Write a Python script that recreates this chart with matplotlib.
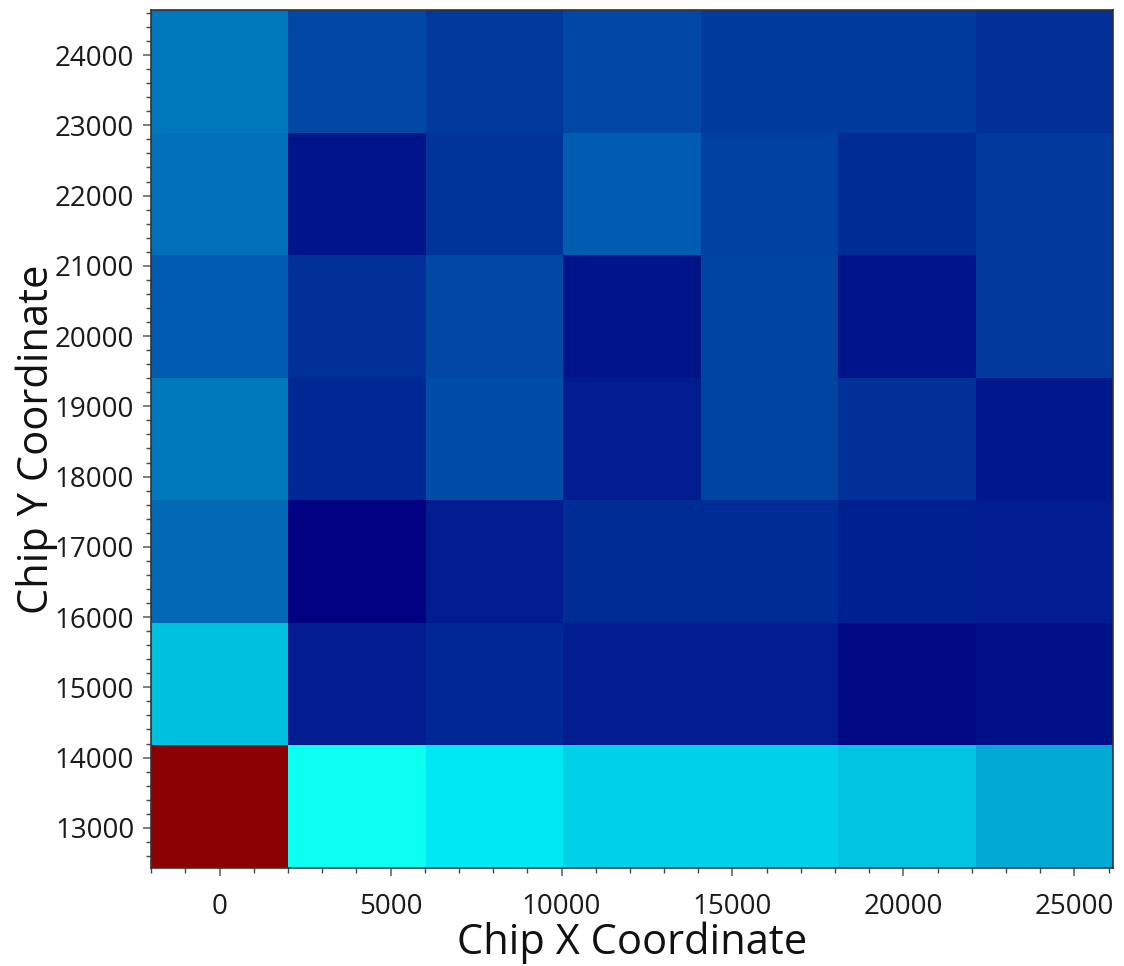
import numpy as np
import matplotlib
matplotlib.use('Agg')
import matplotlib.pyplot as plt
from matplotlib.colors import LinearSegmentedColormap
from matplotlib.ticker import MultipleLocator

plt.rcParams['font.family'] = ['Open Sans', 'DejaVu Sans']

# bin centres of the chip grid
x_centers = [0, 4020, 8040, 12060, 16080, 20100, 24120]
y_centers = [13300, 15045, 16790, 18535, 20280, 22025, 23770]

# values per bin, rows from bottom (y=13300) to top (y=23770)
row_13300 = [100.0, 26.3, 23.0, 20.5, 20.5, 19.3, 16.5]
row_15045 = [19.0, 3.0, 4.0, 2.8, 2.8, 0.8, 1.8]
row_16790 = [10.5, 0.0, 2.8, 4.3, 4.3, 3.3, 3.0]
row_18535 = [12.0, 4.0, 7.8, 2.8, 6.8, 4.8, 2.5]
row_20280 = [9.0, 5.0, 7.3, 2.3, 6.8, 2.0, 5.5]
row_22025 = [11.3, 2.0, 5.3, 9.3, 6.3, 4.3, 5.5]
row_23770 = [12.0, 7.3, 5.8, 7.3, 6.0, 6.0, 5.0]

vals = np.array([row_13300, row_15045, row_16790, row_18535,
                 row_20280, row_22025, row_23770])

cmap = LinearSegmentedColormap.from_list(
    'chipmap', ['#000080', '#00ffff', '#ffff00', '#ff0000', '#8b0000'])

dx = x_centers[1] - x_centers[0]
dy = y_centers[1] - y_centers[0]
x_edges = np.append(np.array(x_centers) - dx / 2, x_centers[-1] + dx / 2)
y_edges = np.append(np.array(y_centers) - dy / 2, y_centers[-1] + dy / 2)

fig = plt.figure(figsize=(11.24, 9.66), dpi=100)
ax = fig.add_axes([0.1343, 0.1014, 0.8559, 0.8883])
ax.pcolormesh(x_edges, y_edges, vals, cmap=cmap, vmin=0, vmax=100)

ax.set_xlim(x_edges[0], x_edges[-1])
ax.set_ylim(y_edges[0], y_edges[-1])

ax.xaxis.set_major_locator(MultipleLocator(5000))
ax.xaxis.set_minor_locator(MultipleLocator(1000))
ax.yaxis.set_major_locator(MultipleLocator(1000))
ax.yaxis.set_minor_locator(MultipleLocator(200))

ax.tick_params(which='major', length=6, width=1.2, color='#666666',
               labelsize=20, labelcolor='#1a1a1a', pad=12)
ax.tick_params(which='minor', length=3.5, width=1.0, color='#444444')
ax.tick_params(axis='y', which='major', pad=6)

for s in ax.spines.values():
    s.set_color('#333333')
    s.set_linewidth(1.2)

ax.set_xlabel('Chip X Coordinate', fontsize=30, labelpad=0, color='#111111')
ax.set_ylabel('Chip Y Coordinate', fontsize=30, labelpad=-2, color='#111111')

plt.savefig('out.png', dpi=100)
